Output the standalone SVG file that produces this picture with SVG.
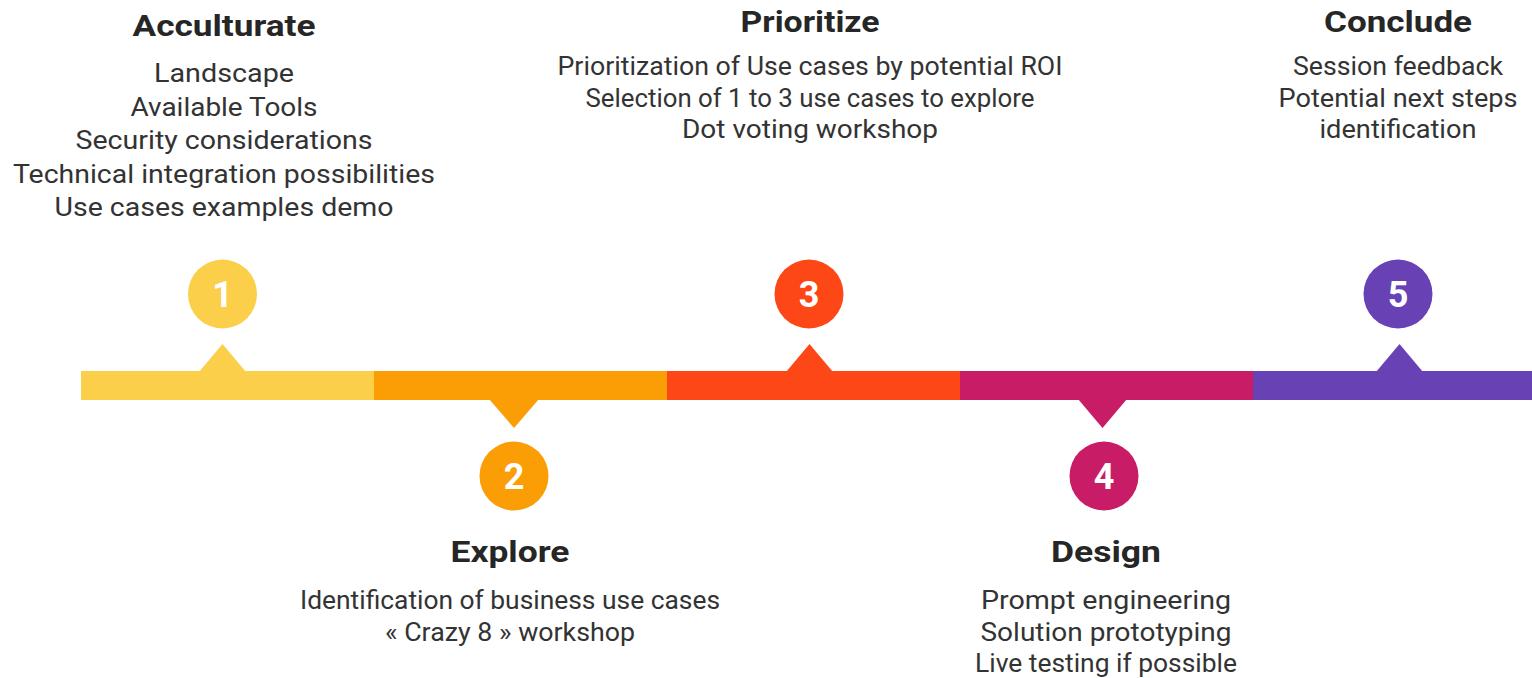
<svg xmlns="http://www.w3.org/2000/svg" width="1532" height="678" viewBox="0 0 1532 678">
<style>
.t{font-family:Roboto,"Liberation Sans",sans-serif;font-weight:700;font-size:30px;fill:#262626;text-anchor:middle}
.b{font-family:Roboto,"Liberation Sans",sans-serif;font-weight:400;font-size:26px;fill:#333333;text-anchor:middle}
.n{font-family:Roboto,"Liberation Sans",sans-serif;font-weight:700;font-size:36px;fill:#ffffff;text-anchor:middle}
.c1{fill:#FBCF4A}.c2{fill:#FB9E05}.c3{fill:#FD4716}.c4{fill:#C91C66}.c5{fill:#6841B5}
</style>
<rect width="1532" height="678" fill="#ffffff"/>
<g id="connectors">
<rect class="c1" x="81" y="371" width="293" height="29"/>
<rect class="c2" x="374" y="371" width="293" height="29"/>
<rect class="c3" x="667" y="371" width="293" height="29"/>
<rect class="c4" x="960" y="371" width="293" height="29"/>
<rect class="c5" x="1253" y="371" width="279" height="29"/>
</g>
<g id="step1">
<polygon class="c1" points="199,372 222.5,344 246,372"/>
<circle class="c1" cx="222.5" cy="294" r="34.5"/>
<text class="n" x="222.5" y="307">1</text>
<text class="t" x="224" y="36" textLength="183" lengthAdjust="spacingAndGlyphs">Acculturate</text>
<text class="b" x="224" y="82" textLength="140" lengthAdjust="spacingAndGlyphs">Landscape</text>
<text class="b" x="224" y="116" textLength="187" lengthAdjust="spacingAndGlyphs">Available Tools</text>
<text class="b" x="224" y="149" textLength="297" lengthAdjust="spacingAndGlyphs">Security considerations</text>
<text class="b" x="224" y="183" textLength="422" lengthAdjust="spacingAndGlyphs">Technical integration possibilities</text>
<text class="b" x="224" y="216" textLength="339" lengthAdjust="spacingAndGlyphs">Use cases examples demo</text>
</g>
<g id="step2">
<polygon class="c2" points="489,399 514,428 539,399"/>
<circle class="c2" cx="514" cy="476" r="34.5"/>
<text class="n" x="514" y="489">2</text>
<text class="t" x="510" y="562" textLength="119" lengthAdjust="spacingAndGlyphs">Explore</text>
<text class="b" x="510" y="609" textLength="420" lengthAdjust="spacingAndGlyphs">Identification of business use cases</text>
<text class="b" x="510" y="641" textLength="250" lengthAdjust="spacingAndGlyphs">« Crazy 8 » workshop</text>
</g>
<g id="step3">
<polygon class="c3" points="786,372 809.5,344 833,372"/>
<circle class="c3" cx="809" cy="294" r="34.5"/>
<text class="n" x="809" y="307">3</text>
<text class="t" x="810" y="32" textLength="139" lengthAdjust="spacingAndGlyphs">Prioritize</text>
<text class="b" x="810" y="75" textLength="505" lengthAdjust="spacingAndGlyphs">Prioritization of Use cases by potential ROI</text>
<text class="b" x="810" y="107" textLength="449" lengthAdjust="spacingAndGlyphs">Selection of 1 to 3 use cases to explore</text>
<text class="b" x="810" y="138" textLength="256" lengthAdjust="spacingAndGlyphs">Dot voting workshop</text>
</g>
<g id="step4">
<polygon class="c4" points="1078,399 1102.5,428 1127,399"/>
<circle class="c4" cx="1104" cy="476" r="34.5"/>
<text class="n" x="1104" y="489">4</text>
<text class="t" x="1106" y="562" textLength="110" lengthAdjust="spacingAndGlyphs">Design</text>
<text class="b" x="1106" y="609" textLength="250" lengthAdjust="spacingAndGlyphs">Prompt engineering</text>
<text class="b" x="1106" y="641" textLength="251" lengthAdjust="spacingAndGlyphs">Solution prototyping</text>
<text class="b" x="1106" y="672" textLength="262" lengthAdjust="spacingAndGlyphs">Live testing if possible</text>
</g>
<g id="step5">
<polygon class="c5" points="1376,372 1399.5,344 1423,372"/>
<circle class="c5" cx="1398" cy="294" r="34.5"/>
<text class="n" x="1398" y="307">5</text>
<text class="t" x="1398" y="32" textLength="148" lengthAdjust="spacingAndGlyphs">Conclude</text>
<text class="b" x="1398" y="75" textLength="210" lengthAdjust="spacingAndGlyphs">Session feedback</text>
<text class="b" x="1398" y="107" textLength="239" lengthAdjust="spacingAndGlyphs">Potential next steps</text>
<text class="b" x="1398" y="138" textLength="157" lengthAdjust="spacingAndGlyphs">identification</text>
</g>
</svg>
